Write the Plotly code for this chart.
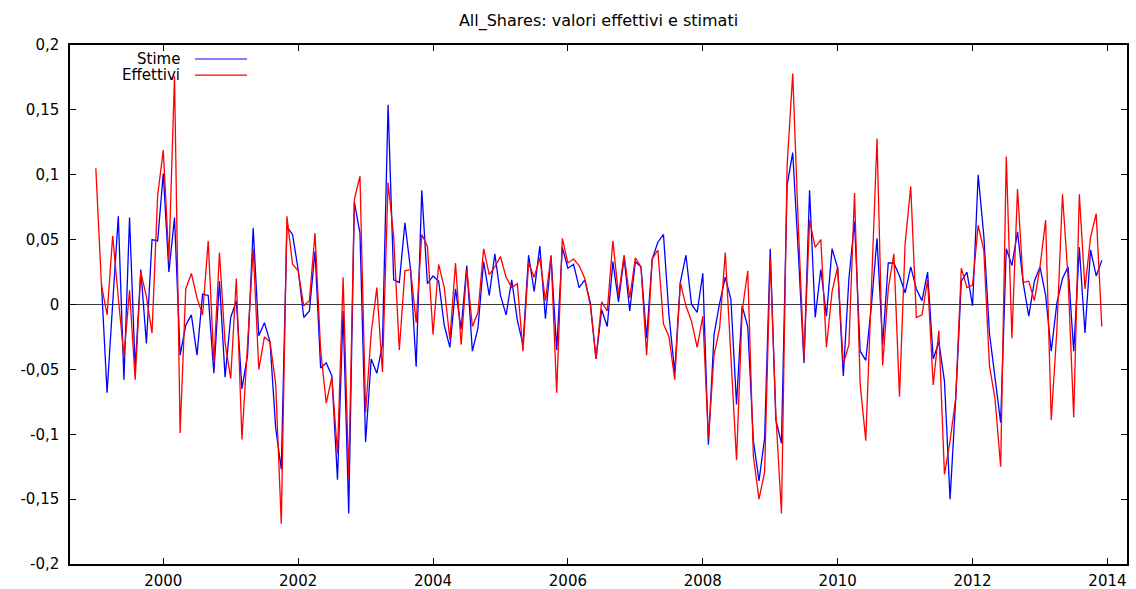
import plotly.graph_objects as go

# Monthly sample 1999:01 - 2013:12
start_year = 1999
n_obs = 180
periods = [start_year + i // 12 + (i % 12) / 12 for i in range(n_obs)]

# Fitted values (first observation lost to the lag)
stime = [
    None, 0.016, -0.068, 0.001, 0.068, -0.058, 0.067, -0.050, 0.027, -0.030, 0.050, 0.049,
    0.101, 0.025, 0.067, -0.039, -0.016, -0.008, -0.039, 0.008, 0.007, -0.053, 0.018, -0.056,
    -0.010, 0.003, -0.065, -0.039, 0.059, -0.024, -0.014, -0.029, -0.095, -0.127, 0.060, 0.054,
    0.027, -0.010, -0.005, 0.041, -0.049, -0.045, -0.055, -0.135, -0.005, -0.161, 0.079, 0.055,
    -0.106, -0.042, -0.053, -0.031, 0.154, 0.019, 0.017, 0.063, 0.027, -0.048, 0.088, 0.016,
    0.022, 0.018, -0.016, -0.033, 0.012, -0.019, 0.030, -0.036, -0.018, 0.033, 0.007, 0.039,
    0.007, -0.008, 0.019, -0.012, -0.031, 0.038, 0.010, 0.045, -0.011, 0.037, -0.035, 0.044,
    0.028, 0.031, 0.013, 0.019, 0.001, -0.042, -0.004, -0.017, 0.033, 0.002, 0.036, -0.005,
    0.033, 0.029, -0.026, 0.035, 0.048, 0.054, -0.009, -0.052, 0.017, 0.038, 0.000, -0.006,
    0.024, -0.108, -0.023, 0.001, 0.021, 0.004, -0.077, -0.001, -0.017, -0.105, -0.136, -0.103,
    0.043, -0.089, -0.107, 0.092, 0.117, 0.040, -0.045, 0.088, -0.010, 0.027, -0.009, 0.043,
    0.028, -0.055, 0.020, 0.064, -0.036, -0.043, -0.001, 0.051, -0.031, 0.032, 0.032, 0.022,
    0.009, 0.029, 0.012, 0.003, 0.025, -0.042, -0.029, -0.059, -0.150, -0.073, 0.018, 0.025,
    -0.001, 0.100, 0.053, -0.022, -0.057, -0.091, 0.043, 0.030, 0.056, 0.017, -0.009, 0.018,
    0.029, 0.007, -0.036, 0.001, 0.020, 0.029, -0.036, 0.044, -0.022, 0.042, 0.022, 0.034,
]

# Actual returns
effettivi = [
    0.105, 0.015, -0.008, 0.053, 0.005, -0.040, 0.011, -0.058, 0.025, 0.006, -0.022, 0.084,
    0.119, 0.034, 0.176, -0.099, 0.012, 0.024, 0.005, -0.008, 0.049, -0.045, 0.040, -0.030,
    -0.057, 0.020, -0.104, -0.030, 0.043, -0.050, -0.025, -0.029, -0.061, -0.169, 0.068, 0.031,
    0.026, -0.001, 0.003, 0.055, -0.035, -0.076, -0.056, -0.115, 0.021, -0.133, 0.081, 0.099,
    -0.083, -0.022, 0.013, -0.052, 0.094, 0.052, -0.035, 0.026, 0.027, -0.014, 0.054, 0.045,
    -0.023, 0.031, 0.013, -0.027, 0.032, -0.031, 0.027, -0.017, -0.006, 0.043, 0.023, 0.029,
    0.037, 0.021, 0.013, 0.016, -0.036, 0.032, 0.021, 0.036, 0.003, 0.038, -0.068, 0.051,
    0.032, 0.035, 0.030, 0.020, -0.001, -0.042, 0.002, -0.005, 0.049, 0.007, 0.038, 0.005,
    0.036, 0.029, -0.039, 0.035, 0.042, -0.015, -0.025, -0.058, 0.017, -0.001, -0.013, -0.033,
    -0.009, -0.103, -0.039, -0.018, 0.040, -0.040, -0.120, -0.005, 0.026, -0.117, -0.150, -0.129,
    0.036, -0.085, -0.161, 0.107, 0.178, 0.060, -0.042, 0.065, 0.044, 0.050, -0.033, 0.010,
    0.029, -0.046, -0.031, 0.086, -0.061, -0.105, 0.007, 0.128, -0.047, 0.012, 0.039, -0.071,
    0.047, 0.091, -0.010, -0.008, 0.019, -0.062, -0.020, -0.131, -0.105, -0.072, 0.028, 0.013,
    0.015, 0.061, 0.042, -0.047, -0.073, -0.125, 0.114, -0.026, 0.089, 0.017, 0.018, 0.003,
    0.029, 0.065, -0.089, -0.020, 0.085, 0.020, -0.087, 0.085, 0.012, 0.052, 0.070, -0.017,
]

x_tickvals = [2000, 2002, 2004, 2006, 2008, 2010, 2012, 2014]
x_ticktext = ["2000", "2002", "2004", "2006", "2008", "2010", "2012", "2014"]
y_tickvals = [0.2, 0.15, 0.1, 0.05, 0, -0.05, -0.1, -0.15, -0.2]
y_ticktext = ["0,2", "0,15", "0,1", "0,05", "0", "-0,05", "-0,1", "-0,15", "-0,2"]

series_names = ["Stime", "Effettivi"]
series_colors = ["#0000ff", "#ff0000"]

FONT = "DejaVu Sans"

fig = go.Figure()
for name, values, color in zip(series_names, [stime, effettivi], series_colors):
    fig.add_trace(go.Scatter(
        x=periods, y=values, mode="lines", name=name,
        line=dict(color=color, width=1.3), showlegend=False,
    ))

axis_common = dict(
    showline=True, linecolor="#000000", linewidth=1.5, mirror="ticks",
    ticks="inside", ticklen=6, tickwidth=1, tickcolor="#000000",
    showgrid=False, automargin=False,
    tickfont=dict(family=FONT, size=15, color="#000000"),
)

fig.update_xaxes(
    range=[1998.617, 2014.29], tickvals=x_tickvals, ticktext=x_ticktext,
    zeroline=False, ticklabelstandoff=2, **axis_common,
)
fig.update_yaxes(
    range=[-0.2, 0.2], tickvals=y_tickvals, ticktext=y_ticktext,
    zeroline=True, zerolinecolor="#3a3a3a", zerolinewidth=1,
    ticklabelstandoff=6, **axis_common,
)

# Key in the upper-left corner: label on the left, line sample on the right
key_rows_y = [0.973, 0.942]
for name, color, ky in zip(series_names, series_colors, key_rows_y):
    fig.add_annotation(
        xref="paper", yref="paper", x=0.106, y=ky, text=name,
        showarrow=False, xanchor="right", yanchor="middle",
        font=dict(family=FONT, size=15, color="#000000"),
    )
    fig.add_shape(
        type="line", xref="paper", yref="paper",
        x0=0.1183, x1=0.1675, y0=ky, y1=ky,
        line=dict(color=color, width=1.2),
    )

fig.update_layout(
    width=1136, height=589,
    margin=dict(l=70, r=9, t=45, b=25),
    paper_bgcolor="#ffffff", plot_bgcolor="#ffffff",
    title=dict(
        text="All_Shares: valori effettivi e stimati",
        x=0.5, xref="paper", xanchor="center",
        y=1 - 20 / 589, yref="container", yanchor="middle",
        font=dict(family=FONT, size=16, color="#000000"),
    ),
    showlegend=False,
)

fig.write_html("out.html")
